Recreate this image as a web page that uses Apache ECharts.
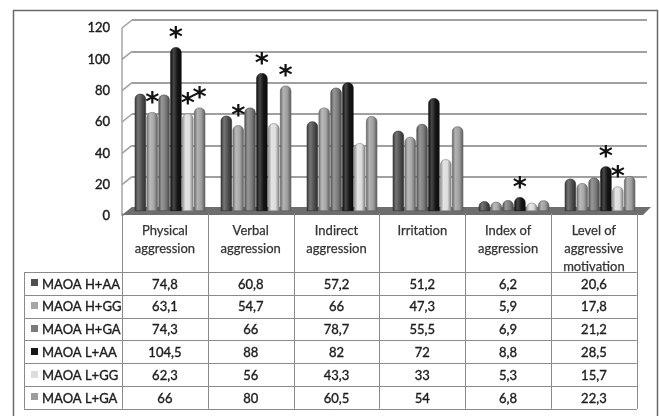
<!DOCTYPE html>
<html>
<head>
<meta charset="utf-8">
<script src="https://cdn.jsdelivr.net/npm/echarts@6/dist/echarts.min.js"></script>
<style>
  html, body { margin: 0; padding: 0; background: #fff; }
  #chart { width: 659px; height: 416px; }
</style>
</head>
<body>
<div id="chart"></div>
<script>
// Scale categories (column headers of the data table)
const categories = ['Physical\naggression', 'Verbal\naggression', 'Indirect\naggression',
  'Irritation', 'Index of\naggression', 'Level of\naggressive\nmotivation'];

// Genotype groups
const groups = ['MAOA H+AA', 'MAOA H+GG', 'MAOA H+GA', 'MAOA L+AA', 'MAOA L+GG', 'MAOA L+GA'];

// Mean scores per group
const hAA = [74.8, 60.8, 57.2, 51.2, 6.2, 20.6];
const hGG = [63.1, 54.7, 66, 47.3, 5.9, 17.8];
const hGA = [74.3, 66, 78.7, 55.5, 6.9, 21.2];
const lAA = [104.5, 88, 82, 72, 8.8, 28.5];
const lGG = [62.3, 56, 43.3, 33, 5.3, 15.7];
const lGA = [66, 80, 60.5, 54, 6.8, 22.3];

// Significant differences (marked with an asterisk)
const sigHAA = [0, 0, 0, 0, 0, 0];
const sigHGG = [1, 1, 0, 0, 0, 0];
const sigHGA = [0, 0, 0, 0, 0, 0];
const sigLAA = [1, 1, 0, 0, 1, 1];
const sigLGG = [1, 0, 0, 0, 0, 1];
const sigLGA = [1, 1, 0, 0, 0, 0];

// Value axis ticks
const yTicks = [0, 20, 40, 60, 80, 100, 120];

const seriesValues = [hAA, hGG, hGA, lAA, lGG, lGA];
const seriesSig = [sigHAA, sigHGG, sigHGA, sigLAA, sigLGG, sigLGA];
const groupColors = ['#4f4f4f', '#a6a6a6', '#7b7b7b', '#151515', '#dcdcdc', '#9d9d9d'];

const FONT = 'Lato, "Open Sans", sans-serif';
const TEXT_C = '#1c1c1c';

function mix(hex, target, t) {
  const n = parseInt(hex.slice(1), 16);
  const r = (n >> 16) & 255, g = (n >> 8) & 255, b = n & 255;
  const f = c => Math.round(c + (target - c) * t);
  return 'rgb(' + f(r) + ',' + f(g) + ',' + f(b) + ')';
}

function cylinder(c) {
  return new echarts.graphic.LinearGradient(0, 0, 1, 0, [
    { offset: 0, color: mix(c, 0, 0.35) },
    { offset: 0.3, color: mix(c, 255, 0.22) },
    { offset: 0.65, color: c },
    { offset: 1, color: mix(c, 0, 0.45) }
  ]);
}

const fmtNum = v => String(v).replace('.', ',');

const chart = echarts.init(document.getElementById('chart'), null, { renderer: 'canvas' });

const barSeries = groups.map((name, i) => ({
  name: name,
  type: 'bar',
  xAxisIndex: 2,
  yAxisIndex: 2,
  data: seriesValues[i],
  barGap: '6%',
  barCategoryGap: '18%',
  itemStyle: {
    color: cylinder(groupColors[i]),
    borderColor: mix(groupColors[i], 0, 0.4),
    borderWidth: 0.6,
    borderRadius: [5, 5, 0, 0]
  },
  label: {
    show: true,
    position: 'top',
    distance: -5,
    formatter: p => seriesSig[i][p.dataIndex] ? '*' : '',
    fontSize: 27,
    fontWeight: 'bold',
    color: '#111',
    fontFamily: 'DejaVu Sans, sans-serif'
  },
  emphasis: { disabled: true },
  animation: false
}));

chart.setOption({
  animation: false,
  grid: [
    { left: 118, top: 28, width: 10, height: 188 },          // front scale labels
    { left: 132, top: 20, right: 12, height: 188 },           // back wall gridlines
    { left: 127, top: 23, right: 16, height: 188 }            // bars
  ],
  xAxis: [
    { gridIndex: 0, type: 'category', data: categories, show: false },
    { gridIndex: 1, type: 'category', data: categories, show: false },
    { gridIndex: 2, type: 'category', data: categories, show: false }
  ],
  yAxis: [
    {
      gridIndex: 0, type: 'value', min: yTicks[0], max: yTicks[yTicks.length - 1], interval: 20,
      axisLine: { show: false }, axisTick: { show: false }, splitLine: { show: false },
      axisLabel: { color: TEXT_C, fontSize: 13, fontFamily: FONT, margin: 8,
        textBorderColor: TEXT_C, textBorderWidth: 0.4 }
    },
    {
      gridIndex: 1, type: 'value', min: 0, max: 120, interval: 20,
      axisLine: { show: false }, axisTick: { show: false }, axisLabel: { show: false },
      splitLine: { show: true, lineStyle: { color: '#a0a0a0', width: 2 } }
    },
    {
      gridIndex: 2, type: 'value', min: 0, max: 120, interval: 20, show: false,
      splitLine: { show: false }
    }
  ],
  series: barSeries
});

// Frame, side wall, floor and data table
const graphics = [];
const lineStyle = (color, w) => ({ stroke: color, lineWidth: w });
const textStyle = extra => Object.assign({
  font: '13px ' + FONT, fill: TEXT_C, stroke: TEXT_C, lineWidth: 0.35
}, extra);

// outer frame
graphics.push({ type: 'polyline', silent: true, z: 0,
  shape: { points: [[13.5, 416], [13.5, 10.5], [657.5, 10.5], [657.5, 416]] },
  style: { stroke: '#6a6a6a', lineWidth: 1.5, fill: null } });

// left side wall: slanted tick lines joining front scale and back gridlines
const wallFrontX = 122, wallBackX = 132;
yTicks.forEach(v => {
  const yF = chart.convertToPixel({ yAxisIndex: 0 }, v);
  const yB = chart.convertToPixel({ yAxisIndex: 1 }, v);
  graphics.push({ type: 'line', silent: true, z: 0,
    shape: { x1: wallFrontX, y1: yF, x2: wallBackX, y2: yB },
    style: lineStyle('#a0a0a0', 1.6) });
});
const yTopF = chart.convertToPixel({ yAxisIndex: 0 }, 120);
const yZeroF = chart.convertToPixel({ yAxisIndex: 0 }, 0);
const yZeroB = chart.convertToPixel({ yAxisIndex: 1 }, 0);
graphics.push({ type: 'line', silent: true, z: 0,
  shape: { x1: wallFrontX, y1: yTopF, x2: wallFrontX, y2: yZeroF },
  style: lineStyle('#a0a0a0', 1.4) });

// floor
graphics.push({ type: 'polygon', silent: true, z: 1,
  shape: { points: [[wallFrontX, yZeroF - 1], [wallBackX, yZeroB - 1], [651, yZeroB - 1], [643, yZeroF - 1]] },
  style: { fill: '#6e6e6e' } });

// data table
const tLeft = 122, colW = 85.8, headTop = 213, headBottom = 272, rowH = 22.8, legLeft = 24;
const tRight = tLeft + colW * categories.length;
const tBottom = headBottom + rowH * groups.length;
const gridC = '#8a8a8a';

// vertical column lines
for (let c = 0; c <= categories.length; c++) {
  const x = Math.round(tLeft + c * colW) + 0.5;
  graphics.push({ type: 'line', silent: true, z: 3,
    shape: { x1: x, y1: headTop, x2: x, y2: tBottom }, style: lineStyle(gridC, 1) });
}
graphics.push({ type: 'line', silent: true, z: 3,
  shape: { x1: legLeft + 0.5, y1: headBottom, x2: legLeft + 0.5, y2: tBottom }, style: lineStyle(gridC, 1) });
// horizontal row lines
for (let r = 0; r <= groups.length; r++) {
  const y = Math.round(headBottom + r * rowH) + 0.5;
  graphics.push({ type: 'line', silent: true, z: 3,
    shape: { x1: legLeft, y1: y, x2: tRight, y2: y }, style: lineStyle(gridC, 1) });
}

// column headers
categories.forEach((cat, c) => {
  graphics.push({ type: 'text', silent: true, z: 4,
    x: tLeft + (c + 0.5) * colW, y: headTop + 9,
    style: textStyle({ text: cat, align: 'center', verticalAlign: 'top', lineHeight: 18,
      fill: '#333', stroke: '#333', lineWidth: 0.25 }) });
});

// legend keys and values
groups.forEach((g, r) => {
  const yc = headBottom + (r + 0.5) * rowH;
  graphics.push({ type: 'rect', silent: true, z: 4,
    shape: { x: 31, y: Math.round(yc) - 4, width: 7, height: 7 },
    style: { fill: groupColors[r] } });
  graphics.push({ type: 'text', silent: true, z: 4,
    x: 42, y: yc + 1,
    style: textStyle({ text: g, align: 'left', verticalAlign: 'middle' }) });
  seriesValues[r].forEach((v, c) => {
    graphics.push({ type: 'text', silent: true, z: 4,
      x: tLeft + (c + 0.5) * colW, y: yc + 1,
      style: textStyle({ text: fmtNum(v), align: 'center', verticalAlign: 'middle' }) });
  });
});

chart.setOption({ graphic: { elements: graphics } });
</script>
</body>
</html>
